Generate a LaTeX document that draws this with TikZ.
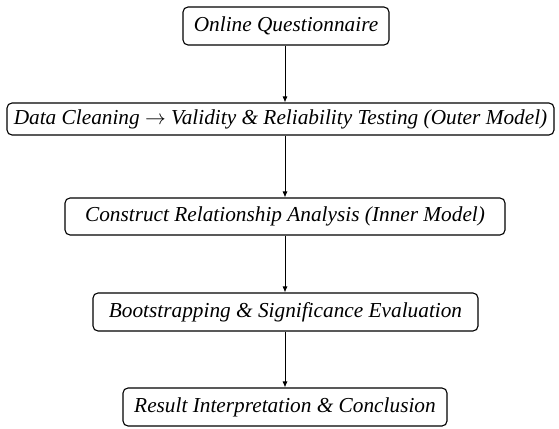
\documentclass[tikz,border=0pt]{standalone}
\usepackage{fontspec}
\setmainfont{Liberation Serif}
\usetikzlibrary{arrows.meta}
\begin{document}
\begin{tikzpicture}[x=1pt,y=-1pt,
  box/.style={draw, line width=1.1pt, rounded corners=5pt, inner sep=0pt, font=\fontsize{21.3}{24}\selectfont\itshape},
  flow/.style={-{Latex[length=6pt,width=5pt]}, line width=0.9pt}]
\useasboundingbox (0,0) rectangle (559,428);
\node[box, minimum width=206pt, minimum height=38pt] (n1) at (286,26) {Online Questionnaire};
\node[box, minimum width=547pt, minimum height=32pt] (n2) at (280.5,119) {Data Cleaning $\rightarrow$ Validity \& Reliability Testing (Outer Model)};
\node[box, minimum width=440pt, minimum height=37pt] (n3) at (285,216.5) {Construct Relationship Analysis (Inner Model)};
\node[box, minimum width=385pt, minimum height=38pt] (n4) at (285.5,312) {Bootstrapping \& Significance Evaluation};
\node[box, minimum width=324pt, minimum height=38pt] (n5) at (285,407) {Result Interpretation \& Conclusion};
\draw[flow] (n1.south -| 285,0) -- (n2.north -| 285,0);
\draw[flow] (n2.south -| 285,0) -- (n3.north -| 285,0);
\draw[flow] (n3.south -| 285,0) -- (n4.north -| 285,0);
\draw[flow] (n4.south -| 285,0) -- (n5.north -| 285,0);
\end{tikzpicture}
\end{document}
